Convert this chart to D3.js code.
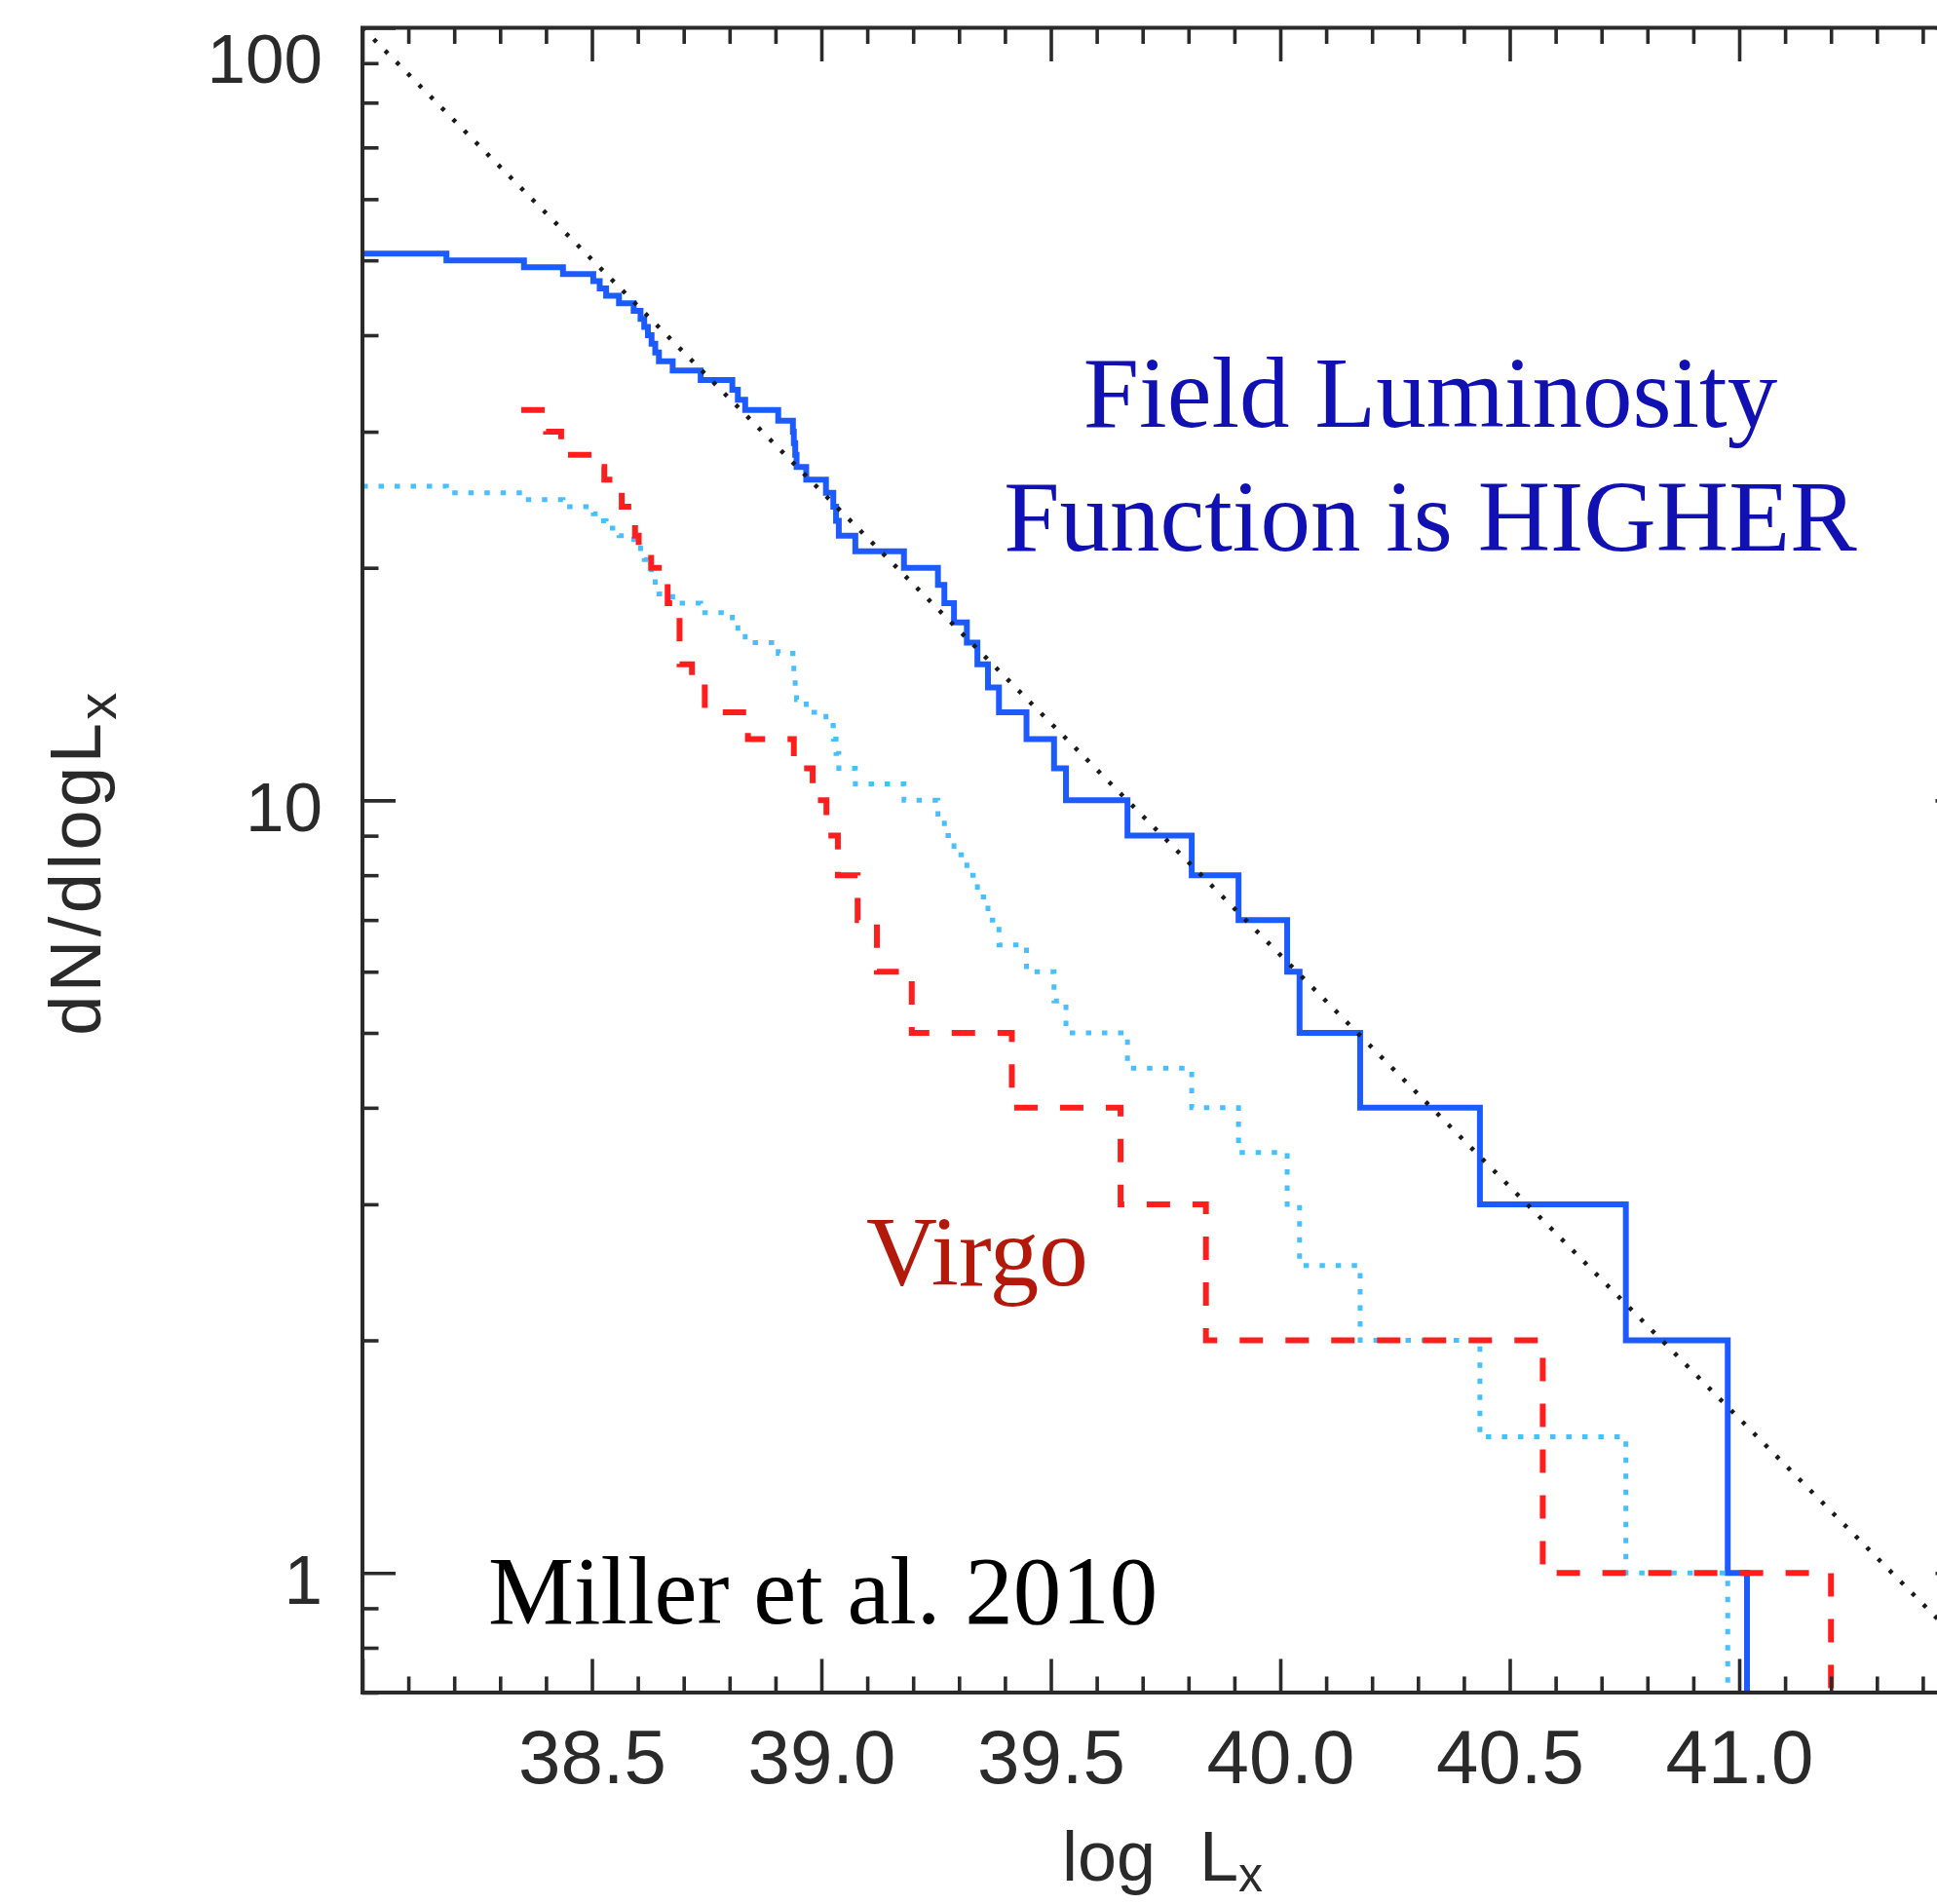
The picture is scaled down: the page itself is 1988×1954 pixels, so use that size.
<!DOCTYPE html>
<html>
<head>
<meta charset="utf-8">
<script src="https://cdn.jsdelivr.net/npm/d3@7"></script>
<style>
  html, body { margin: 0; padding: 0; background: #ffffff; overflow: hidden; }
  svg { display: block; }
</style>
</head>
<body>
<svg id="chart" width="1988" height="1954"></svg>
<script>
// ---- Data -----------------------------------------------------------------
// Field sample: left edge (log Lx) of each step of the cumulative count.
const fieldLogL = [
  38.000, 38.183, 38.352, 38.437, 38.503, 38.517, 38.531, 38.559, 38.591, 38.606,
  38.614, 38.622, 38.630, 38.638, 38.646, 38.676, 38.737, 38.806, 38.818, 38.834,
  38.906, 38.938, 38.940, 38.943, 38.946, 38.967, 39.010, 39.026, 39.032, 39.038,
  39.074, 39.180, 39.254, 39.268, 39.289, 39.317, 39.340, 39.363, 39.387, 39.447,
  39.507, 39.533, 39.667, 39.807, 39.909, 40.015, 40.042, 40.174, 40.435, 40.753,
  40.975, 41.017
];
const fieldCounts = [
  51, 50, 49, 48, 47, 46, 45, 44, 43, 42,
  41, 40, 39, 38, 37, 36, 35, 34, 33, 32,
  31, 30, 29, 28, 27, 26, 25, 24, 23, 22,
  21, 20, 19, 18, 17, 16, 15, 14, 13, 12,
  11, 10, 9, 8, 7, 6, 5, 4, 3, 2,
  1, 0
];
// Field sample rescaled to the Virgo sample size (dotted curve).
const fieldScaledCounts = [
  25.5, 25, 24.5, 24, 23.5, 23, 22.5, 22, 21.5, 21,
  20.5, 20, 19.5, 19, 18.5, 18, 17.5, 17, 16.5, 16,
  15.5, 15, 14.5, 14, 13.5, 13, 12.5, 12, 11.5, 11,
  10.5, 10, 9.5, 9, 8.5, 8, 7.5, 7, 6.5, 6,
  5.5, 5, 4.5, 4, 3.5, 3, 2.5, 2, 1.5, 1,
  0.5, 0
];
// Virgo sample.
const virgoLogL = [
  38.346, 38.400, 38.433, 38.505, 38.527, 38.565, 38.594, 38.602, 38.629, 38.665,
  38.691, 38.718, 38.746, 38.840, 38.940, 38.981, 39.011, 39.036, 39.079, 39.121,
  39.197, 39.415, 39.652, 39.838, 40.572, 41.200
];
const virgoCounts = [
  32, 30, 28, 27, 26, 24, 22, 21, 20, 18,
  15, 14, 13, 12, 11, 10, 9, 8, 7, 6,
  5, 4, 3, 2, 1, 0
];
// Reference power law, end points.
const powerLawLogL = [38.0, 41.5];
const powerLawN = [100, 0.794];

// Axis ticks.
const xMajorTicks = [38.5, 39.0, 39.5, 40.0, 40.5, 41.0];
const xFrameTicks = [38.0, 38.5, 39.0, 39.5, 40.0, 40.5, 41.0, 41.5];
const yMajorTicks = [1, 10, 100];
const yMinorTicks = [0.7, 0.8, 0.9, 2, 3, 4, 5, 6, 7, 8, 9, 20, 30, 40, 50, 60, 70, 80, 90];

// ---- Layout ---------------------------------------------------------------
const svg = d3.select('#chart');
const x = d3.scaleLinear().domain([38.0, 41.5]).range([372, 2020.5]);
const y = d3.scaleLog().domain([0.7, 100]).range([1737, 28.5]);
const [x0, x1] = x.range();
const [yb, yt] = y.range();

const axisColor = '#2a2a2a';
const labelFont = '"Liberation Sans", Arial, Helvetica, sans-serif';
const serifFont = '"Liberation Serif", "Times New Roman", Times, serif';

svg.append('rect').attr('width', 1988).attr('height', 1954).attr('fill', '#ffffff');

svg.append('defs').append('clipPath').attr('id', 'plotArea')
  .append('rect')
  .attr('x', x0).attr('y', yt)
  .attr('width', x1 - x0).attr('height', yb - yt);

// ---- Curves ---------------------------------------------------------------
const floorN = y.domain()[0] * 0.5;   // counts of zero drop off the bottom
const stepLine = d3.line()
  .x(d => x(d[0]))
  .y(d => y(Math.max(d[1], floorN)))
  .curve(d3.curveStepAfter);
const straight = d3.line().x(d => x(d[0])).y(d => y(d[1]));

const plot = svg.append('g').attr('clip-path', 'url(#plotArea)');

plot.append('path')
  .datum(d3.zip(fieldLogL, fieldCounts))
  .attr('d', stepLine)
  .attr('fill', 'none')
  .attr('stroke', '#1c5bff')
  .attr('stroke-width', 6)
  .attr('stroke-linejoin', 'miter');

plot.append('path')
  .datum(d3.zip(fieldLogL, fieldScaledCounts))
  .attr('d', stepLine)
  .attr('fill', 'none')
  .attr('stroke', '#48c0ff')
  .attr('stroke-width', 5)
  .attr('stroke-dasharray', '5.5 11');

plot.append('path')
  .datum(d3.zip(virgoLogL, virgoCounts))
  .attr('d', stepLine)
  .attr('fill', 'none')
  .attr('stroke', '#ff1e1e')
  .attr('stroke-width', 6)
  .attr('stroke-dasharray', '24 23');

plot.append('path')
  .datum(d3.zip(powerLawLogL, powerLawN))
  .attr('d', straight)
  .attr('fill', 'none')
  .attr('stroke', '#1a1a1a')
  .attr('stroke-width', 4.5)
  .attr('stroke-dasharray', '4 12.5');

// ---- Axes -----------------------------------------------------------------
function tidy(g) {
  g.select('.domain').remove();
  g.selectAll('line').attr('stroke', axisColor).attr('stroke-width', 3.6);
  g.selectAll('text')
    .attr('fill', axisColor)
    .attr('font-family', labelFont);
}

// left
svg.append('g').attr('transform', `translate(${x0},0)`)
  .call(d3.axisLeft(y).tickValues(yMinorTicks).tickSizeInner(-16.5).tickSizeOuter(0).tickFormat(''))
  .call(tidy);
const yAxisG = svg.append('g').attr('transform', `translate(${x0},0)`)
  .call(d3.axisLeft(y).tickValues(yMajorTicks).tickSizeInner(-34).tickSizeOuter(0)
    .tickPadding(41).tickFormat(d3.format('d')))
  .call(tidy);
yAxisG.selectAll('text')
  .attr('font-size', 71)
  .attr('dy', d => d === 100 ? 56 : 31);

// right
svg.append('g').attr('transform', `translate(${x1},0)`)
  .call(d3.axisRight(y).tickValues(yMinorTicks).tickSizeInner(-16.5).tickSizeOuter(0).tickFormat(''))
  .call(tidy);
svg.append('g').attr('transform', `translate(${x1},0)`)
  .call(d3.axisRight(y).tickValues(yMajorTicks).tickSizeInner(-34).tickSizeOuter(0).tickFormat(''))
  .call(tidy);

// bottom and top
const xMinor = d3.range(381, 415).map(v => v / 10).filter(v => Math.abs(v * 2 - Math.round(v * 2)) > 1e-6);
[[yb, d3.axisBottom], [yt, d3.axisTop]].forEach(([pos, axisFn]) => {
  svg.append('g').attr('transform', `translate(0,${pos})`)
    .call(axisFn(x).tickValues(xMinor).tickSizeInner(-16.5).tickSizeOuter(0).tickFormat(''))
    .call(tidy);
  svg.append('g').attr('transform', `translate(0,${pos})`)
    .call(axisFn(x).tickValues(xFrameTicks).tickSizeInner(-34.5).tickSizeOuter(0).tickFormat(''))
    .call(tidy);
});
const xAxisG = svg.append('g').attr('transform', `translate(0,${yb})`)
  .call(d3.axisBottom(x).tickValues(xMajorTicks).tickSize(0).tickPadding(37.5).tickFormat(d3.format('.1f')))
  .call(tidy);
xAxisG.selectAll('text').attr('font-size', 78);

// frame
svg.append('rect')
  .attr('x', x0).attr('y', yt)
  .attr('width', x1 - x0).attr('height', yb - yt)
  .attr('fill', 'none')
  .attr('stroke', axisColor)
  .attr('stroke-width', 4);

// axis titles
const xTitle = svg.append('text')
  .attr('x', 1090).attr('y', 1930)
  .attr('font-family', labelFont).attr('font-size', 72)
  .attr('fill', axisColor);
xTitle.append('tspan').text('log');
xTitle.append('tspan').attr('x', 1231).text('L');
xTitle.append('tspan').attr('dy', 11).attr('font-size', 50).text('x');

const yTitle = svg.append('text')
  .attr('transform', 'translate(103,885) rotate(-90)')
  .attr('text-anchor', 'middle')
  .attr('font-family', labelFont).attr('font-size', 74)
  .attr('letter-spacing', 3.5)
  .attr('fill', axisColor);
yTitle.append('tspan').text('dN/dlogL');
yTitle.append('tspan').attr('dy', 16).attr('font-size', 56).text('x');

// ---- Annotations ----------------------------------------------------------
const note = svg.append('text')
  .attr('font-family', serifFont).attr('font-size', 103)
  .attr('fill', '#1111b3').attr('text-anchor', 'middle');
note.append('tspan').attr('x', 1468).attr('y', 437.5).text('Field Luminosity');
note.append('tspan').attr('x', 1468).attr('y', 564.5).text('Function is HIGHER');

svg.append('text')
  .attr('x', 889).attr('y', 1318.5)
  .attr('font-family', serifFont).attr('font-size', 101)
  .attr('fill', '#b3190a')
  .text('Virgo');

svg.append('text')
  .attr('x', 501).attr('y', 1666)
  .attr('font-family', serifFont).attr('font-size', 99)
  .attr('fill', '#000000')
  .text('Miller et al. 2010');
</script>
</body>
</html>
